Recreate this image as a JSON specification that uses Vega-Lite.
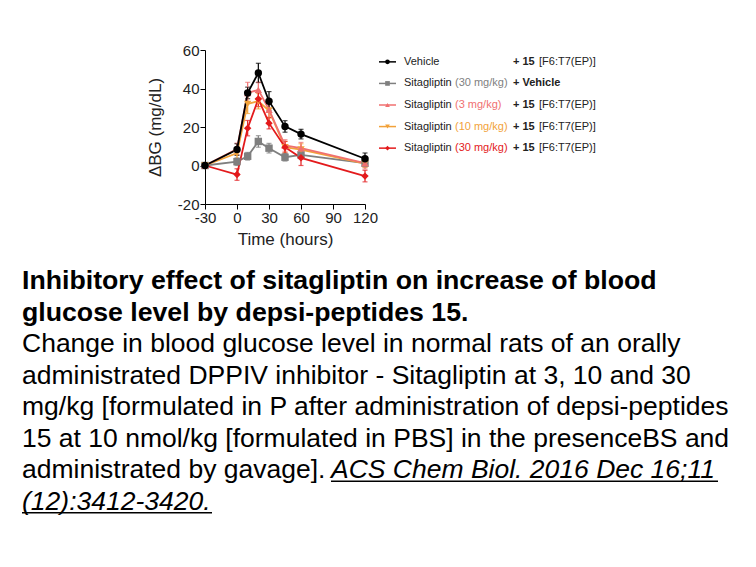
{
  "$schema": "https://vega.github.io/schema/vega-lite/v6.json",
  "background": "white",
  "padding": {"left": 0, "top": 43, "right": 0, "bottom": 0},
  "config": {
    "view": {"stroke": null},
    "font": "Liberation Sans",
    "axis": {
      "domainColor": "#000000",
      "tickColor": "#000000",
      "grid": false,
      "labelFont": "Liberation Sans",
      "labelFontSize": 15,
      "labelColor": "#222222",
      "labelOverlap": false,
      "labelBound": false,
      "labelFlush": false,
      "labelExpr": "'' + datum.value",
      "titleFont": "Liberation Sans",
      "titleFontSize": 17,
      "titleFontWeight": "normal",
      "titleColor": "#222222",
      "tickSize": 5,
      "labelPadding": 1
    }
  },
  "datasets": {
    "glucose": [
      {"series": "Sitagliptin 30 + Vehicle", "time": -30, "mean": 0, "sem": 0.6},
      {"series": "Sitagliptin 30 + Vehicle", "time": 0, "mean": 2, "sem": 2},
      {"series": "Sitagliptin 30 + Vehicle", "time": 10, "mean": 4.8, "sem": 2},
      {"series": "Sitagliptin 30 + Vehicle", "time": 20, "mean": 12.5, "sem": 3},
      {"series": "Sitagliptin 30 + Vehicle", "time": 30, "mean": 9, "sem": 2.5},
      {"series": "Sitagliptin 30 + Vehicle", "time": 45, "mean": 4.3, "sem": 2},
      {"series": "Sitagliptin 30 + Vehicle", "time": 60, "mean": 5.5, "sem": 2},
      {"series": "Sitagliptin 30 + Vehicle", "time": 120, "mean": 1.2, "sem": 2},
      {"series": "Sitagliptin 10 + 15", "time": -30, "mean": 0, "sem": 0.6},
      {"series": "Sitagliptin 10 + 15", "time": 0, "mean": 6.4, "sem": 3},
      {"series": "Sitagliptin 10 + 15", "time": 10, "mean": 32, "sem": 5},
      {"series": "Sitagliptin 10 + 15", "time": 20, "mean": 33.4, "sem": 4},
      {"series": "Sitagliptin 10 + 15", "time": 30, "mean": 28.6, "sem": 4},
      {"series": "Sitagliptin 10 + 15", "time": 45, "mean": 9.5, "sem": 3},
      {"series": "Sitagliptin 10 + 15", "time": 60, "mean": 8.3, "sem": 3},
      {"series": "Sitagliptin 10 + 15", "time": 120, "mean": 1, "sem": 2},
      {"series": "Sitagliptin 3 + 15", "time": -30, "mean": 0, "sem": 0.6},
      {"series": "Sitagliptin 3 + 15", "time": 0, "mean": 8.6, "sem": 3},
      {"series": "Sitagliptin 3 + 15", "time": 10, "mean": 37.7, "sem": 5.5},
      {"series": "Sitagliptin 3 + 15", "time": 20, "mean": 39.3, "sem": 4},
      {"series": "Sitagliptin 3 + 15", "time": 30, "mean": 29, "sem": 4},
      {"series": "Sitagliptin 3 + 15", "time": 45, "mean": 10.4, "sem": 3},
      {"series": "Sitagliptin 3 + 15", "time": 60, "mean": 9, "sem": 3},
      {"series": "Sitagliptin 3 + 15", "time": 120, "mean": 1.2, "sem": 3},
      {"series": "Sitagliptin 30 + 15", "time": -30, "mean": 0, "sem": 0.6},
      {"series": "Sitagliptin 30 + 15", "time": 0, "mean": -4.7, "sem": 3},
      {"series": "Sitagliptin 30 + 15", "time": 10, "mean": 19.4, "sem": 4},
      {"series": "Sitagliptin 30 + 15", "time": 20, "mean": 34.6, "sem": 4},
      {"series": "Sitagliptin 30 + 15", "time": 30, "mean": 22, "sem": 3},
      {"series": "Sitagliptin 30 + 15", "time": 45, "mean": 9.5, "sem": 3},
      {"series": "Sitagliptin 30 + 15", "time": 60, "mean": 4, "sem": 4},
      {"series": "Sitagliptin 30 + 15", "time": 120, "mean": -5.5, "sem": 3},
      {"series": "Vehicle + 15", "time": -30, "mean": 0, "sem": 0.6},
      {"series": "Vehicle + 15", "time": 0, "mean": 8.3, "sem": 3},
      {"series": "Vehicle + 15", "time": 10, "mean": 37.7, "sem": 3},
      {"series": "Vehicle + 15", "time": 20, "mean": 48.1, "sem": 5},
      {"series": "Vehicle + 15", "time": 30, "mean": 33.4, "sem": 5},
      {"series": "Vehicle + 15", "time": 45, "mean": 20.3, "sem": 3},
      {"series": "Vehicle + 15", "time": 60, "mean": 16.3, "sem": 2.5},
      {"series": "Vehicle + 15", "time": 120, "mean": 3.5, "sem": 3}
    ],
    "legendRows": [
      {"series": "Vehicle + 15", "name": "Vehicle", "dose": "", "plus": "+ 15", "tag": "[F6:T7(EP)]"},
      {"series": "Sitagliptin 30 + Vehicle", "name": "Sitagliptin", "dose": "(30 mg/kg)", "plus": "+ Vehicle", "tag": ""},
      {"series": "Sitagliptin 3 + 15", "name": "Sitagliptin", "dose": "(3 mg/kg)", "plus": "+ 15", "tag": "[F6:T7(EP)]"},
      {"series": "Sitagliptin 10 + 15", "name": "Sitagliptin", "dose": "(10 mg/kg)", "plus": "+ 15", "tag": "[F6:T7(EP)]"},
      {"series": "Sitagliptin 30 + 15", "name": "Sitagliptin", "dose": "(30 mg/kg)", "plus": "+ 15", "tag": "[F6:T7(EP)]"}
    ],
    "captionTitle": [
      {"line": 1, "text": "Inhibitory effect of sitagliptin on increase of blood"},
      {"line": 2, "text": "glucose level by depsi-peptides 15."}
    ],
    "captionBody": [
      {"line": 3, "text": "Change in blood glucose level in normal rats of an orally"},
      {"line": 4, "text": "administrated DPPIV inhibitor - Sitagliptin at 3, 10 and 30"},
      {"line": 5, "text": "mg/kg [formulated in P after administration of depsi-peptides"},
      {"line": 6, "text": "15 at 10 nmol/kg [formulated in PBS] in the presenceBS and"},
      {"line": 7, "text": "administrated by gavage]."}
    ],
    "citation": [
      {"line": 7, "text": "ACS Chem Biol. 2016 Dec 16;11"},
      {"line": 8, "text": "(12):3412-3420."}
    ]
  },
  "spacing": 11,
  "vconcat": [
    {
      "spacing": 0,
      "hconcat": [
        {
          "width": 146,
          "height": 20,
          "data": {"values": [{}]},
          "mark": {"type": "text", "text": ""}
        },
        {
          "width": 160,
          "height": 154,
          "data": {"name": "glucose"},
          "encoding": {
            "x": {
              "field": "time",
              "type": "quantitative",
              "scale": {"domain": [-30, 120], "nice": false},
              "axis": {"values": [-30, 0, 30, 60, 90, 120], "title": "Time (hours)", "titlePadding": 6}
            },
            "y": {
              "field": "mean",
              "type": "quantitative",
              "scale": {"domain": [-20, 60], "nice": false},
              "axis": {"values": [-20, 0, 20, 40, 60], "title": "ΔBG (mg/dL)", "titlePadding": 13}
            },
            "color": {
              "field": "series",
              "type": "nominal",
              "scale": {
                "domain": ["Vehicle + 15", "Sitagliptin 30 + Vehicle", "Sitagliptin 3 + 15", "Sitagliptin 10 + 15", "Sitagliptin 30 + 15"],
                "range": ["#000000", "#7f7f7f", "#f07070", "#f2a23a", "#e31a1c"]
              },
              "legend": null
            }
          },
          "layer": [
            {
              "mark": {"type": "errorbar", "ticks": {"size": 5}, "thickness": 1.2},
              "encoding": {
                "yError": {"field": "sem"}
              }
            },
            {
              "mark": {"type": "line", "strokeWidth": 1.8},
              "encoding": {
                "detail": {"field": "series"}
              }
            },
            {
              "mark": {"type": "point", "filled": true, "size": 55, "opacity": 1},
              "encoding": {
                "shape": {
                  "field": "series",
                  "type": "nominal",
                  "scale": {
                    "domain": ["Vehicle + 15", "Sitagliptin 30 + Vehicle", "Sitagliptin 3 + 15", "Sitagliptin 10 + 15", "Sitagliptin 30 + 15"],
                    "range": ["circle", "square", "triangle-up", "triangle-down", "diamond"]
                  },
                  "legend": null
                }
              }
            }
          ]
        },
        {
          "width": 230,
          "height": 110,
          "data": {"name": "legendRows"},
          "encoding": {
            "y": {
              "field": "series",
              "type": "nominal",
              "scale": {
                "type": "point",
                "padding": 0.55,
                "domain": ["Vehicle + 15", "Sitagliptin 30 + Vehicle", "Sitagliptin 3 + 15", "Sitagliptin 10 + 15", "Sitagliptin 30 + 15"]
              },
              "axis": null
            }
          },
          "layer": [
            {
              "mark": {"type": "rule", "strokeWidth": 1.5},
              "encoding": {
                "x": {"datum": 0, "type": "quantitative", "scale": {"domain": [0, 230], "nice": false}, "axis": null},
                "x2": {"datum": 17},
                "color": {"field": "series", "type": "nominal", "legend": null}
              }
            },
            {
              "mark": {"type": "point", "filled": true, "size": 22, "opacity": 1},
              "encoding": {
                "x": {"datum": 8.5, "type": "quantitative"},
                "color": {"field": "series", "type": "nominal", "legend": null},
                "shape": {"field": "series", "type": "nominal", "legend": null}
              }
            },
            {
              "mark": {"type": "text", "align": "left", "baseline": "middle", "fontSize": 11, "color": "#222222"},
              "encoding": {
                "x": {"datum": 25, "type": "quantitative"},
                "text": {"field": "name"}
              }
            },
            {
              "mark": {"type": "text", "align": "left", "baseline": "middle", "fontSize": 11},
              "encoding": {
                "x": {"datum": 76, "type": "quantitative"},
                "text": {"field": "dose"},
                "color": {"field": "series", "type": "nominal", "legend": null}
              }
            },
            {
              "mark": {"type": "text", "align": "left", "baseline": "middle", "fontSize": 11, "fontWeight": "bold", "color": "#222222"},
              "encoding": {
                "x": {"datum": 134, "type": "quantitative"},
                "text": {"field": "plus"}
              }
            },
            {
              "mark": {"type": "text", "align": "left", "baseline": "middle", "fontSize": 11, "color": "#222222"},
              "encoding": {
                "x": {"datum": 160, "type": "quantitative"},
                "text": {"field": "tag"}
              }
            }
          ]
        }
      ]
    },
    {
      "width": 756,
      "height": 283,
      "encoding": {
        "x": {"datum": 22, "type": "quantitative", "scale": {"domain": [0, 756], "nice": false}, "axis": null}
      },
      "layer": [
        {
          "data": {"name": "captionTitle"},
          "mark": {"type": "text", "align": "left", "baseline": "alphabetic", "fontSize": 26.7, "fontWeight": "bold", "color": "#000000"},
          "encoding": {
            "y": {"field": "line", "type": "quantitative", "scale": {"domain": [0, 9], "reverse": true, "nice": false}, "axis": null},
            "text": {"field": "text"}
          }
        },
        {
          "data": {"name": "captionBody"},
          "mark": {"type": "text", "align": "left", "baseline": "alphabetic", "fontSize": 26.5, "color": "#000000"},
          "encoding": {
            "y": {"field": "line", "type": "quantitative"},
            "text": {"field": "text"}
          }
        },
        {
          "data": {"name": "citation"},
          "transform": [{"filter": "datum.line == 7"}],
          "mark": {"type": "text", "align": "left", "baseline": "alphabetic", "fontSize": 26.5, "fontStyle": "italic", "color": "#000000"},
          "encoding": {
            "x": {"datum": 331, "type": "quantitative"},
            "y": {"field": "line", "type": "quantitative"},
            "text": {"field": "text"}
          }
        },
        {
          "data": {"name": "citation"},
          "transform": [{"filter": "datum.line == 8"}],
          "mark": {"type": "text", "align": "left", "baseline": "alphabetic", "fontSize": 26.5, "fontStyle": "italic", "color": "#000000"},
          "encoding": {
            "y": {"field": "line", "type": "quantitative"},
            "text": {"field": "text"}
          }
        },
        {
          "data": {"values": [{}]},
          "mark": {"type": "rule", "strokeWidth": 1.5, "color": "#000000"},
          "encoding": {
            "x": {"datum": 331, "type": "quantitative"},
            "x2": {"datum": 718},
            "y": {"datum": 7.1, "type": "quantitative"}
          }
        },
        {
          "data": {"values": [{}]},
          "mark": {"type": "rule", "strokeWidth": 1.5, "color": "#000000"},
          "encoding": {
            "x": {"datum": 22, "type": "quantitative"},
            "x2": {"datum": 212},
            "y": {"datum": 8.1, "type": "quantitative"}
          }
        }
      ]
    }
  ]
}
